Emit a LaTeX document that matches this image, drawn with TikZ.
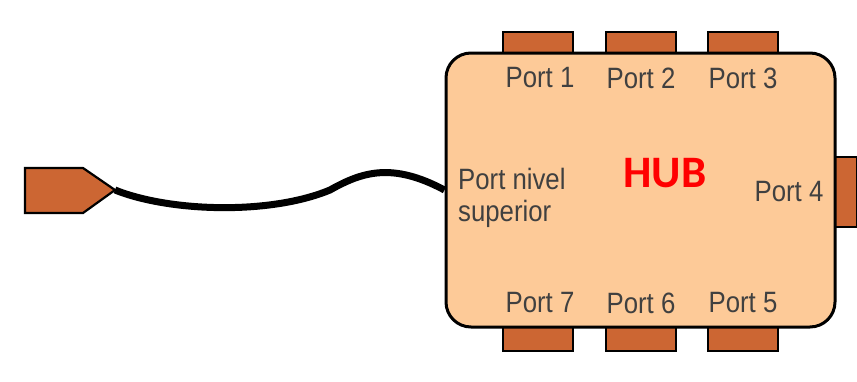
\documentclass[tikz,border=0pt]{standalone}
\usepackage{fontspec}
\setmainfont{Liberation Sans}
\newfontfamily\hubfont{Carlito}
\definecolor{hubfill}{RGB}{253,202,152}
\definecolor{portfill}{RGB}{204,102,51}
\definecolor{labelgray}{RGB}{64,64,64}
\begin{document}
\begin{tikzpicture}[x=1pt,y=-1pt,
  portbox/.style={draw=black, line width=2.2pt, fill=portfill, inner sep=0pt},
  hubbox/.style={draw=black, line width=3pt, fill=hubfill, rounded corners=25pt, inner sep=0pt, minimum width=389pt, minimum height=274pt},
  portlabel/.style={text=labelgray, font=\fontsize{28}{30}\selectfont, xscale=0.92, yscale=1.05, inner sep=0pt},
  cable/.style={line width=7pt, draw=black}]
\fill[white] (0,0) rectangle (857,381);
\useasboundingbox (0,0) rectangle (857,381);
% ports (behind hub)
\foreach \n/\x in {p1/538, p2/641, p3/743}{
  \node[portbox, minimum width=70pt, minimum height=22pt] (\n) at (\x,43) {};
}
\foreach \n/\x in {p7/538, p6/641, p5/743}{
  \node[portbox, minimum width=70pt, minimum height=24pt] (\n) at (\x,339) {};
}
\node[portbox, minimum width=22pt, minimum height=70pt] (p4) at (846,192) {};
% hub
\node[hubbox] (hub) at (640.5,190) {};
% plug
\filldraw[draw=black, line width=2.2pt, fill=portfill] (25,168) -- (83,168) -- (115,190) -- (83,213) -- (25,213) -- cycle;
\coordinate (plugtip) at (115,190);
% cable
\draw[cable] (plugtip) .. controls (170,212) and (270,215) .. (330,190) .. controls (362,172) and (392,162) .. (hub.west);
% labels
\node[portlabel] (l1) at (540,78) {Port 1};
\node[portlabel] (l2) at (641,78) {Port 2};
\node[portlabel] (l3) at (743,78) {Port 3};
\node[portlabel] (l7) at (540,303) {Port 7};
\node[portlabel] (l6) at (641,303) {Port 6};
\node[portlabel] (l5) at (743,303) {Port 5};
\node[portlabel] (l4) at (789,192) {Port 4};
\node[portlabel, anchor=north west, align=left, font=\fontsize{28}{30}\selectfont] (lsup) at (458,168) {Port nivel\\superior};
\node[text=red, font=\hubfont\bfseries\fontsize{45}{45}\selectfont, inner sep=0pt] (hubl) at (665,173) {HUB};
\end{tikzpicture}
\end{document}
